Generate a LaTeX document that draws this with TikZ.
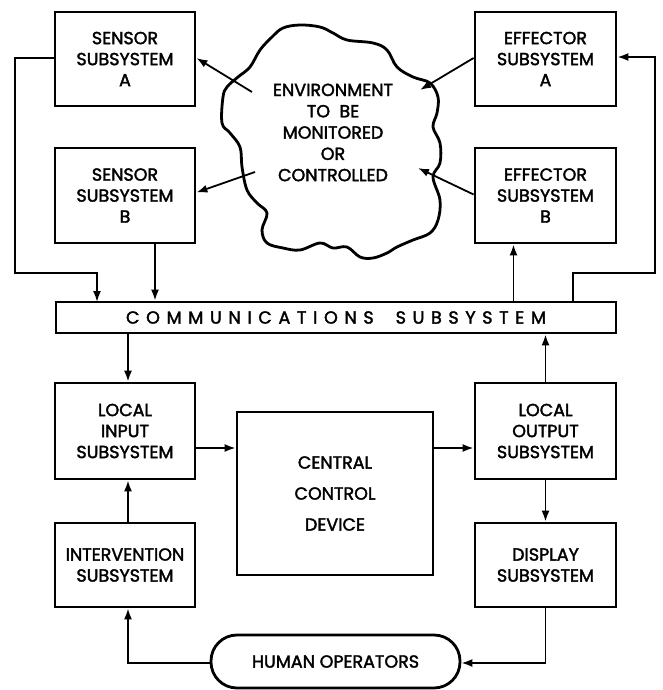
\documentclass[tikz,border=0pt]{standalone}
\usepackage{fontspec}
\setmainfont{Poppins}[FakeBold=2]
\usetikzlibrary{arrows.meta,calc}
\begin{document}
\begin{tikzpicture}[x=1pt,y=-1pt,
  box/.style={draw,line width=2.8pt,inner sep=0pt,align=center,font=\fontsize{17.5}{21}\selectfont},
  conn/.style={line width=1.8pt},
  arr/.style={conn,-{Latex[length=11pt,width=8pt]}}]
\useasboundingbox (0,0) rectangle (663,690);
% boxes
\node[box,minimum width=140pt,minimum height=94pt] (sa) at (125,59) {SENSOR\\SUBSYSTEM\\A};
\node[box,minimum width=140pt,minimum height=95pt] (sb) at (125,195.5) {SENSOR\\SUBSYSTEM\\B};
\node[box,minimum width=141pt,minimum height=94pt] (ea) at (545.5,59) {EFFECTOR\\SUBSYSTEM\\A};
\node[box,minimum width=141pt,minimum height=95pt] (eb) at (545.5,195.5) {EFFECTOR\\SUBSYSTEM\\B};
\node[box,minimum width=560pt,minimum height=31pt] (comm) at (336,317.5)
  {\addfontfeature{LetterSpace=38}COMMUNICATIONS\hspace{22pt}SUBSYSTEM};
\node[box,minimum width=140pt,minimum height=96pt] (li) at (125,431) {LOCAL\\INPUT\\SUBSYSTEM};
\node[box,minimum width=140pt,minimum height=84pt] (iv) at (125,565) {INTERVENTION\\SUBSYSTEM};
\node[box,minimum width=196pt,minimum height=163pt,font=\fontsize{17.5}{31}\selectfont] (cen) at (335,493.5) {CENTRAL\\CONTROL\\DEVICE};
\node[box,minimum width=141pt,minimum height=96pt] (lo) at (545.5,431) {LOCAL\\OUTPUT\\SUBSYSTEM};
\node[box,minimum width=141pt,minimum height=84pt] (dp) at (545.5,565) {DISPLAY\\SUBSYSTEM};
\node[box,minimum width=249pt,minimum height=53pt,rounded corners=26pt] (hu) at (335.5,661.5) {HUMAN OPERATORS};
% cloud
\draw[line width=2.8pt] plot[smooth cycle,tension=0.6] coordinates {
 (272,37) (283,28) (300,25) (320,27) (333,33) (347,40) (373,43) (387,50)
 (397,67) (413,77) (430,83) (438,97) (437,113) (433,127) (440,143) (440,163)
 (433,177) (440,200) (438,220) (430,233) (413,240) (397,247) (387,253) (373,258)
 (360,257) (347,247) (333,248) (320,243) (300,250) (283,248) (267,243) (262,230)
 (267,213) (257,203) (247,190) (242,167) (240,147) (230,133) (222,123) (223,97)
 (227,87) (238,77) (250,67) (260,50)};
\node[align=center,inner sep=0pt,font=\fontsize{17.5}{21.3}\selectfont] (env) at (333,132.5)
 {ENVIRONMENT\\TO\ \ BE\\MONITORED\\OR\\CONTROLLED};
% named points
\coordinate (c1) at (252,92);
\coordinate (c2) at (255,172);
\coordinate (c3) at (420,90);
\coordinate (c4) at (418,168);
\coordinate (lft) at (15,273);
\coordinate (cin) at (97,302);
\coordinate (cout) at (573,302);
\coordinate (rgt) at (655,273);
% connectors top
\draw[arr] (c1) -- ([yshift=1pt]sa.east);
\draw[arr] (c2) -- ([yshift=3pt]sb.east);
\draw[arr] ([yshift=1pt]ea.west) -- (c3);
\draw[arr] ([yshift=1pt]eb.west) -- (c4);
\draw[arr] ([yshift=1pt]sa.west) -| (lft) -| (cin);
\draw[arr] ([xshift=30pt]sb.south) -- ([xshift=30pt]sb.south |- comm.north);
\draw[arr] ([xshift=-32pt]eb.south |- comm.north) -- ([xshift=-32pt]eb.south);
\draw[arr] (cout) |- (rgt) |- ([yshift=2pt]ea.east);
% connectors bottom
\draw[arr] ([xshift=3pt]li.north |- comm.south) -- ([xshift=3pt]li.north);
\draw[arr] ([xshift=3pt]iv.north) -- ([xshift=3pt]li.south);
\draw[arr] ([yshift=-17pt]li.east) -- ([yshift=-17pt]li.east -| cen.west);
\draw[arr] ([yshift=-17pt]lo.west -| cen.east) -- ([yshift=-17pt]lo.west);
\draw[arr] (lo.north) -- (lo.north |- comm.south);
\draw[arr] (lo.south) -- (dp.north);
\draw[arr] (dp.south) |- ([yshift=-1.5pt]hu.east);
\draw[arr] ([yshift=-1.5pt]hu.west) -| ([xshift=3pt]iv.south);
\end{tikzpicture}
\end{document}
